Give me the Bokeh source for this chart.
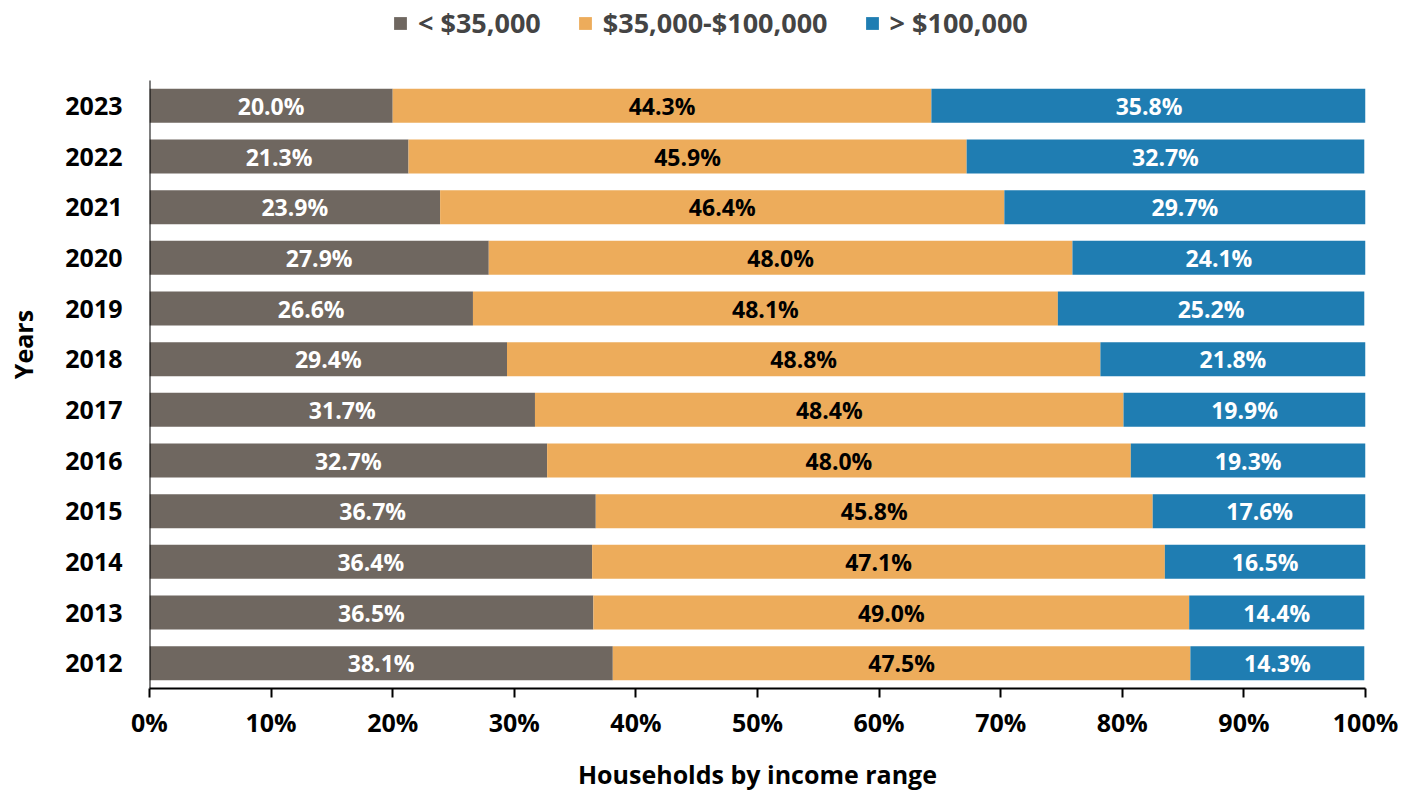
from bokeh.plotting import figure
from bokeh.models import ColumnDataSource, Range1d, Legend, LegendItem, FixedTicker, CustomJSTickFormatter
from bokeh.core.properties import value
from bokeh.embed import file_html
from bokeh.resources import INLINE

years = ["2023", "2022", "2021", "2020", "2019", "2018", "2017", "2016", "2015", "2014", "2013", "2012"]
low = [20.0, 21.3, 23.9, 27.9, 26.6, 29.4, 31.7, 32.7, 36.7, 36.4, 36.5, 38.1]
mid = [44.3, 45.9, 46.4, 48.0, 48.1, 48.8, 48.4, 48.0, 45.8, 47.1, 49.0, 47.5]
high = [35.8, 32.7, 29.7, 24.1, 25.2, 21.8, 19.9, 19.3, 17.6, 16.5, 14.4, 14.3]
series_names = ["< $35,000", "$35,000-$100,000", "> $100,000"]
colors = ["#6F6760", "#EDAC5B", "#1F7DB2"]
label_colors = ["white", "black", "white"]
x_ticks = [0, 10, 20, 30, 40, 50, 60, 70, 80, 90, 100]

FONT = "Open Sans"

n = len(years)
ypos = [n - 1 - i for i in range(n)]  # 2012 at bottom

W, H = 1405, 795
top_space = 80          # legend band above the bars
frame_h = H - 107       # frame spans canvas top to x-axis
unit = (frame_h - top_space) / n

p = figure(
    width=W, height=H,
    y_range=Range1d(-0.5, -0.5 + frame_h / unit),
    x_range=Range1d(0, 100),
    output_backend="svg", toolbar_location=None,
    min_border_left=149, min_border_right=W - 149 - 1216, min_border_top=0, min_border_bottom=107,
)
p.outline_line_color = None
p.grid.grid_line_color = None

items = []
starts = [0.0] * n
for name, vals, col, lcol in zip(series_names, [low, mid, high], colors, label_colors):
    left = list(starts)
    right = [a + b for a, b in zip(starts, vals)]
    mids = [(a + b) / 2 for a, b in zip(left, right)]
    src = ColumnDataSource(dict(
        y=ypos, left=left, right=right, mid=mids,
        txt=["%.1f%%" % v for v in vals],
    ))
    r = p.hbar(y="y", left="left", right="right", height=0.67, source=src,
               fill_color=col, line_color=None)
    p.text(x="mid", y="y", text="txt", source=src, text_align="center",
           text_baseline="middle", text_color=lcol, text_font=value(FONT),
           text_font_style="bold", text_font_size="23px")
    items.append(LegendItem(label=name, renderers=[r]))
    starts = right

# y axis line only over the bar area
p.segment(x0=[0], y0=[-0.5], x1=[0], y1=[n - 0.5], line_color="black", line_width=2)

legend = Legend(items=items, orientation="horizontal", location=(243, frame_h - 41),
                label_text_font=FONT, label_text_font_style="bold",
                label_text_font_size="27px", glyph_width=16, glyph_height=16,
                label_standoff=10, spacing=36, border_line_color=None,
                background_fill_alpha=0, padding=0, margin=0)
p.add_layout(legend, "center")

xa = p.xaxis[0]
xa.ticker = FixedTicker(ticks=x_ticks)
xa.formatter = CustomJSTickFormatter(code="return tick.toFixed(0) + '%';")
xa.axis_line_width = 2
xa.axis_line_color = "black"
xa.major_tick_line_width = 2
xa.major_tick_line_color = "black"
xa.major_tick_out = 9
xa.major_tick_in = 0
xa.minor_tick_line_color = None
xa.major_label_text_font = FONT
xa.major_label_text_font_style = "bold"
xa.major_label_text_font_size = "25px"
xa.major_label_text_color = "black"
xa.major_label_standoff = 7
xa.axis_label = "Households by income range"
xa.axis_label_text_font = FONT
xa.axis_label_text_font_style = "bold"
xa.axis_label_text_font_size = "25px"
xa.axis_label_text_color = "black"
xa.axis_label_standoff = 15

ya = p.yaxis[0]
ya.ticker = FixedTicker(ticks=ypos)
ya.major_label_overrides = {yp: yr for yp, yr in zip(ypos, years)}
ya.axis_line_color = None
ya.major_tick_line_color = None
ya.major_tick_out = 0
ya.major_tick_in = 0
ya.minor_tick_line_color = None
ya.major_label_text_font = FONT
ya.major_label_text_font_style = "bold"
ya.major_label_text_font_size = "25px"
ya.major_label_text_color = "black"
ya.major_label_standoff = 27
ya.axis_label = "Years"
ya.axis_label_text_font = FONT
ya.axis_label_text_font_style = "bold"
ya.axis_label_text_font_size = "25px"
ya.axis_label_text_color = "black"
ya.axis_label_standoff = 22

open("out.html", "w").write(file_html(p, INLINE))
